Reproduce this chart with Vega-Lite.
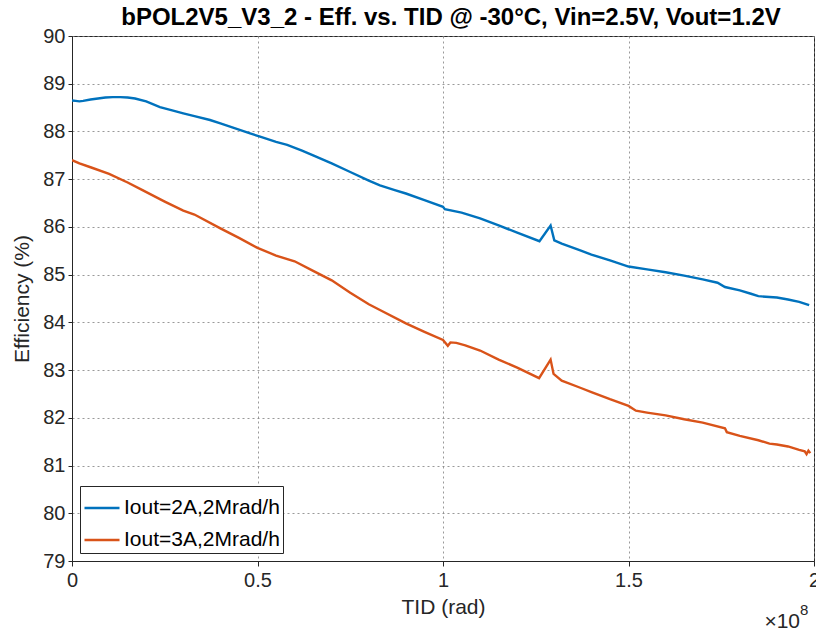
{
  "$schema": "https://vega.github.io/schema/vega-lite/v6.json",
  "width": 742,
  "height": 525,
  "autosize": {"type": "none"},
  "padding": {"left": 72, "top": 36, "right": 2, "bottom": 72},
  "background": "white",
  "config": {
    "font": "Liberation Sans",
    "view": {"stroke": "#262626", "strokeWidth": 1},
    "axis": {"labelColor": "#262626", "titleColor": "#262626", "domainColor": "#262626", "tickColor": "#262626"}
  },
  "title": {
    "text": "bPOL2V5_V3_2 - Eff. vs. TID @ -30°C, Vin=2.5V, Vout=1.2V",
    "fontSize": 24,
    "fontWeight": "bold",
    "color": "#000000",
    "anchor": "middle",
    "offset": -4,
    "dx": 8
  },
  "datasets": {
    "eff": [
      {"tid": 0, "eff": 88.65, "s": "Iout=2A,2Mrad/h"},
      {"tid": 0.01, "eff": 88.64, "s": "Iout=2A,2Mrad/h"},
      {"tid": 0.02, "eff": 88.63, "s": "Iout=2A,2Mrad/h"},
      {"tid": 0.03, "eff": 88.64, "s": "Iout=2A,2Mrad/h"},
      {"tid": 0.05, "eff": 88.67, "s": "Iout=2A,2Mrad/h"},
      {"tid": 0.07, "eff": 88.69, "s": "Iout=2A,2Mrad/h"},
      {"tid": 0.09, "eff": 88.71, "s": "Iout=2A,2Mrad/h"},
      {"tid": 0.11, "eff": 88.72, "s": "Iout=2A,2Mrad/h"},
      {"tid": 0.13, "eff": 88.72, "s": "Iout=2A,2Mrad/h"},
      {"tid": 0.15, "eff": 88.71, "s": "Iout=2A,2Mrad/h"},
      {"tid": 0.17, "eff": 88.69, "s": "Iout=2A,2Mrad/h"},
      {"tid": 0.2, "eff": 88.63, "s": "Iout=2A,2Mrad/h"},
      {"tid": 0.237, "eff": 88.51, "s": "Iout=2A,2Mrad/h"},
      {"tid": 0.27, "eff": 88.44, "s": "Iout=2A,2Mrad/h"},
      {"tid": 0.3, "eff": 88.38, "s": "Iout=2A,2Mrad/h"},
      {"tid": 0.33, "eff": 88.32, "s": "Iout=2A,2Mrad/h"},
      {"tid": 0.372, "eff": 88.24, "s": "Iout=2A,2Mrad/h"},
      {"tid": 0.4, "eff": 88.17, "s": "Iout=2A,2Mrad/h"},
      {"tid": 0.45, "eff": 88.04, "s": "Iout=2A,2Mrad/h"},
      {"tid": 0.48, "eff": 87.96, "s": "Iout=2A,2Mrad/h"},
      {"tid": 0.507, "eff": 87.89, "s": "Iout=2A,2Mrad/h"},
      {"tid": 0.55, "eff": 87.78, "s": "Iout=2A,2Mrad/h"},
      {"tid": 0.58, "eff": 87.72, "s": "Iout=2A,2Mrad/h"},
      {"tid": 0.62, "eff": 87.6, "s": "Iout=2A,2Mrad/h"},
      {"tid": 0.65, "eff": 87.5, "s": "Iout=2A,2Mrad/h"},
      {"tid": 0.7, "eff": 87.33, "s": "Iout=2A,2Mrad/h"},
      {"tid": 0.75, "eff": 87.15, "s": "Iout=2A,2Mrad/h"},
      {"tid": 0.8, "eff": 86.97, "s": "Iout=2A,2Mrad/h"},
      {"tid": 0.83, "eff": 86.87, "s": "Iout=2A,2Mrad/h"},
      {"tid": 0.87, "eff": 86.77, "s": "Iout=2A,2Mrad/h"},
      {"tid": 0.9, "eff": 86.7, "s": "Iout=2A,2Mrad/h"},
      {"tid": 0.95, "eff": 86.56, "s": "Iout=2A,2Mrad/h"},
      {"tid": 1.0, "eff": 86.42, "s": "Iout=2A,2Mrad/h"},
      {"tid": 1.005, "eff": 86.37, "s": "Iout=2A,2Mrad/h"},
      {"tid": 1.05, "eff": 86.3, "s": "Iout=2A,2Mrad/h"},
      {"tid": 1.1, "eff": 86.18, "s": "Iout=2A,2Mrad/h"},
      {"tid": 1.15, "eff": 86.03, "s": "Iout=2A,2Mrad/h"},
      {"tid": 1.2, "eff": 85.88, "s": "Iout=2A,2Mrad/h"},
      {"tid": 1.26, "eff": 85.7, "s": "Iout=2A,2Mrad/h"},
      {"tid": 1.29, "eff": 86.03, "s": "Iout=2A,2Mrad/h"},
      {"tid": 1.3, "eff": 85.72, "s": "Iout=2A,2Mrad/h"},
      {"tid": 1.32, "eff": 85.65, "s": "Iout=2A,2Mrad/h"},
      {"tid": 1.37, "eff": 85.51, "s": "Iout=2A,2Mrad/h"},
      {"tid": 1.4, "eff": 85.42, "s": "Iout=2A,2Mrad/h"},
      {"tid": 1.45, "eff": 85.3, "s": "Iout=2A,2Mrad/h"},
      {"tid": 1.5, "eff": 85.17, "s": "Iout=2A,2Mrad/h"},
      {"tid": 1.55, "eff": 85.11, "s": "Iout=2A,2Mrad/h"},
      {"tid": 1.6, "eff": 85.05, "s": "Iout=2A,2Mrad/h"},
      {"tid": 1.65, "eff": 84.98, "s": "Iout=2A,2Mrad/h"},
      {"tid": 1.7, "eff": 84.9, "s": "Iout=2A,2Mrad/h"},
      {"tid": 1.74, "eff": 84.83, "s": "Iout=2A,2Mrad/h"},
      {"tid": 1.76, "eff": 84.74, "s": "Iout=2A,2Mrad/h"},
      {"tid": 1.8, "eff": 84.67, "s": "Iout=2A,2Mrad/h"},
      {"tid": 1.83, "eff": 84.6, "s": "Iout=2A,2Mrad/h"},
      {"tid": 1.85, "eff": 84.55, "s": "Iout=2A,2Mrad/h"},
      {"tid": 1.88, "eff": 84.53, "s": "Iout=2A,2Mrad/h"},
      {"tid": 1.9, "eff": 84.52, "s": "Iout=2A,2Mrad/h"},
      {"tid": 1.93, "eff": 84.48, "s": "Iout=2A,2Mrad/h"},
      {"tid": 1.96, "eff": 84.43, "s": "Iout=2A,2Mrad/h"},
      {"tid": 1.987, "eff": 84.36, "s": "Iout=2A,2Mrad/h"},
      {"tid": 0, "eff": 87.4, "s": "Iout=3A,2Mrad/h"},
      {"tid": 0.02, "eff": 87.33, "s": "Iout=3A,2Mrad/h"},
      {"tid": 0.05, "eff": 87.25, "s": "Iout=3A,2Mrad/h"},
      {"tid": 0.1, "eff": 87.11, "s": "Iout=3A,2Mrad/h"},
      {"tid": 0.15, "eff": 86.93, "s": "Iout=3A,2Mrad/h"},
      {"tid": 0.19, "eff": 86.77, "s": "Iout=3A,2Mrad/h"},
      {"tid": 0.25, "eff": 86.53, "s": "Iout=3A,2Mrad/h"},
      {"tid": 0.3, "eff": 86.34, "s": "Iout=3A,2Mrad/h"},
      {"tid": 0.33, "eff": 86.26, "s": "Iout=3A,2Mrad/h"},
      {"tid": 0.4, "eff": 85.97, "s": "Iout=3A,2Mrad/h"},
      {"tid": 0.45, "eff": 85.77, "s": "Iout=3A,2Mrad/h"},
      {"tid": 0.5, "eff": 85.56, "s": "Iout=3A,2Mrad/h"},
      {"tid": 0.55, "eff": 85.4, "s": "Iout=3A,2Mrad/h"},
      {"tid": 0.6, "eff": 85.28, "s": "Iout=3A,2Mrad/h"},
      {"tid": 0.65, "eff": 85.08, "s": "Iout=3A,2Mrad/h"},
      {"tid": 0.7, "eff": 84.88, "s": "Iout=3A,2Mrad/h"},
      {"tid": 0.75, "eff": 84.62, "s": "Iout=3A,2Mrad/h"},
      {"tid": 0.8, "eff": 84.38, "s": "Iout=3A,2Mrad/h"},
      {"tid": 0.83, "eff": 84.26, "s": "Iout=3A,2Mrad/h"},
      {"tid": 0.9, "eff": 83.98, "s": "Iout=3A,2Mrad/h"},
      {"tid": 0.95, "eff": 83.8, "s": "Iout=3A,2Mrad/h"},
      {"tid": 1.0, "eff": 83.63, "s": "Iout=3A,2Mrad/h"},
      {"tid": 1.013, "eff": 83.51, "s": "Iout=3A,2Mrad/h"},
      {"tid": 1.02, "eff": 83.58, "s": "Iout=3A,2Mrad/h"},
      {"tid": 1.036, "eff": 83.57, "s": "Iout=3A,2Mrad/h"},
      {"tid": 1.06, "eff": 83.52, "s": "Iout=3A,2Mrad/h"},
      {"tid": 1.1, "eff": 83.41, "s": "Iout=3A,2Mrad/h"},
      {"tid": 1.15, "eff": 83.22, "s": "Iout=3A,2Mrad/h"},
      {"tid": 1.2, "eff": 83.05, "s": "Iout=3A,2Mrad/h"},
      {"tid": 1.259, "eff": 82.83, "s": "Iout=3A,2Mrad/h"},
      {"tid": 1.29, "eff": 83.22, "s": "Iout=3A,2Mrad/h"},
      {"tid": 1.298, "eff": 82.92, "s": "Iout=3A,2Mrad/h"},
      {"tid": 1.32, "eff": 82.78, "s": "Iout=3A,2Mrad/h"},
      {"tid": 1.37, "eff": 82.63, "s": "Iout=3A,2Mrad/h"},
      {"tid": 1.4, "eff": 82.54, "s": "Iout=3A,2Mrad/h"},
      {"tid": 1.45, "eff": 82.39, "s": "Iout=3A,2Mrad/h"},
      {"tid": 1.5, "eff": 82.25, "s": "Iout=3A,2Mrad/h"},
      {"tid": 1.52, "eff": 82.15, "s": "Iout=3A,2Mrad/h"},
      {"tid": 1.55, "eff": 82.11, "s": "Iout=3A,2Mrad/h"},
      {"tid": 1.6, "eff": 82.05, "s": "Iout=3A,2Mrad/h"},
      {"tid": 1.65, "eff": 81.97, "s": "Iout=3A,2Mrad/h"},
      {"tid": 1.7, "eff": 81.9, "s": "Iout=3A,2Mrad/h"},
      {"tid": 1.76, "eff": 81.78, "s": "Iout=3A,2Mrad/h"},
      {"tid": 1.765, "eff": 81.7, "s": "Iout=3A,2Mrad/h"},
      {"tid": 1.8, "eff": 81.62, "s": "Iout=3A,2Mrad/h"},
      {"tid": 1.85, "eff": 81.53, "s": "Iout=3A,2Mrad/h"},
      {"tid": 1.88, "eff": 81.46, "s": "Iout=3A,2Mrad/h"},
      {"tid": 1.9, "eff": 81.44, "s": "Iout=3A,2Mrad/h"},
      {"tid": 1.93, "eff": 81.4, "s": "Iout=3A,2Mrad/h"},
      {"tid": 1.96, "eff": 81.33, "s": "Iout=3A,2Mrad/h"},
      {"tid": 1.975, "eff": 81.3, "s": "Iout=3A,2Mrad/h"},
      {"tid": 1.98, "eff": 81.24, "s": "Iout=3A,2Mrad/h"},
      {"tid": 1.985, "eff": 81.31, "s": "Iout=3A,2Mrad/h"},
      {"tid": 1.99, "eff": 81.26, "s": "Iout=3A,2Mrad/h"}
    ],
    "note": [{"label": "exp"}]
  },
  "layer": [
    {
      "data": {"name": "eff"},
      "mark": {"type": "line", "strokeWidth": 2.4, "clip": true},
      "encoding": {
        "x": {
          "field": "tid", "type": "quantitative",
          "scale": {"domain": [0, 2], "nice": false, "zero": false},
          "axis": {
            "values": [0, 0.5, 1, 1.5, 2],
            "format": "~g",
            "title": "TID (rad)",
            "titleFontSize": 21, "titleFontWeight": "normal", "titlePadding": 6,
            "labelFontSize": 20, "labelPadding": 4, "labelFlush": false,
            "grid": true, "gridColor": "#7f7f7f", "gridDash": [2, 3], "gridWidth": 1, "gridOpacity": 0.8,
            "tickSize": 5, "domainWidth": 1
          }
        },
        "y": {
          "field": "eff", "type": "quantitative",
          "scale": {"domain": [79, 90], "nice": false, "zero": false},
          "axis": {
            "values": [79, 80, 81, 82, 83, 84, 85, 86, 87, 88, 89, 90],
            "title": "Efficiency (%)",
            "titleFontSize": 21, "titleFontWeight": "normal", "titlePadding": 10,
            "labelFontSize": 20, "labelPadding": 3,
            "grid": true, "gridColor": "#7f7f7f", "gridDash": [2, 3], "gridWidth": 1, "gridOpacity": 0.8,
            "tickSize": 4, "domainWidth": 1
          }
        },
        "color": {
          "field": "s", "type": "nominal",
          "scale": {"domain": ["Iout=2A,2Mrad/h", "Iout=3A,2Mrad/h"], "range": ["#0072BD", "#D95319"]},
          "legend": {
            "title": null,
            "orient": "bottom-left",
            "offset": 8,
            "fillColor": "white",
            "strokeColor": "#262626",
            "padding": 3,
            "labelFontSize": 21,
            "labelColor": "#000000",
            "labelLimit": 300,
            "symbolType": "stroke",
            "symbolSize": 1225,
            "symbolStrokeWidth": 2.5,
            "rowPadding": 3,
            "labelOffset": 3
          }
        }
      }
    },
    {
      "data": {"name": "note"},
      "mark": {"type": "text", "align": "right", "baseline": "middle", "fontSize": 21, "dx": -14, "dy": 61, "color": "#262626"},
      "encoding": {"x": {"datum": 2}, "y": {"datum": 79}, "text": {"value": "×10"}}
    },
    {
      "data": {"name": "note"},
      "mark": {"type": "text", "align": "left", "baseline": "middle", "fontSize": 15, "dx": -14, "dy": 49, "color": "#262626"},
      "encoding": {"x": {"datum": 2}, "y": {"datum": 79}, "text": {"value": "8"}}
    }
  ]
}
